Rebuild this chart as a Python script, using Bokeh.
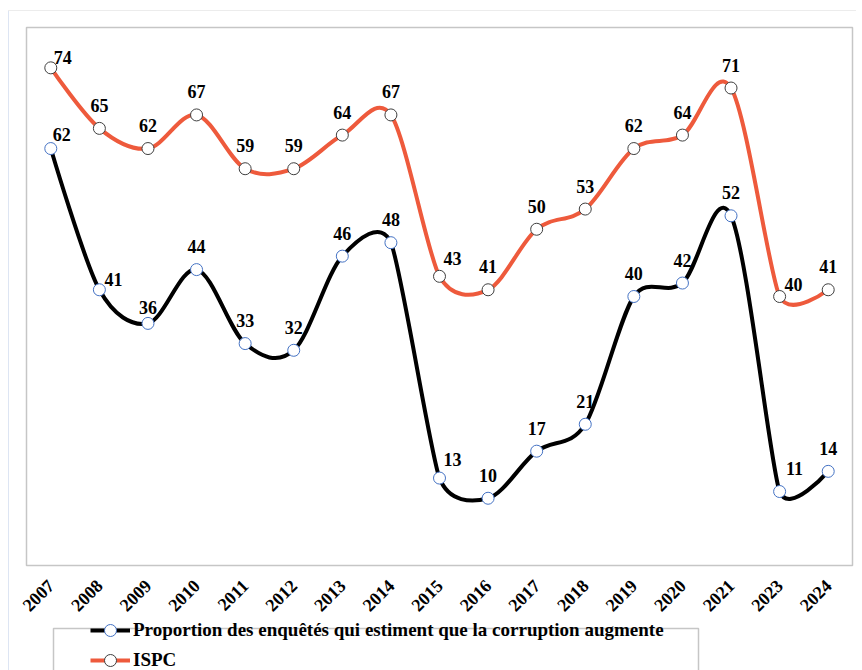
import math
from bokeh.plotting import figure
from bokeh.layouts import column
from bokeh.models import ColumnDataSource, Range1d, FixedTicker, Legend, LegendItem
from bokeh.embed import file_html
from bokeh.resources import INLINE

# ---------------- data ----------------
years = ["2007", "2008", "2009", "2010", "2011", "2012", "2013", "2014", "2015",
         "2016", "2017", "2018", "2019", "2020", "2021", "2023", "2024"]
proportion = [62, 41, 36, 44, 33, 32, 46, 48, 13, 10, 17, 21, 40, 42, 52, 11, 14]
ispc = [74, 65, 62, 67, 59, 59, 64, 67, 43, 41, 50, 53, 62, 64, 71, 40, 41]
series_names = ["Proportion des enquêtés qui estiment que la corruption augmente", "ISPC"]

# label nudges (screen px) for a few labels, default is straight above
prop_label_shift = {"2007": (11, -14), "2008": (14, -10), "2009": (0, -16),
                    "2015": (13, -19), "2023": (15, -23)}
ispc_label_shift = {"2007": (12, -10), "2015": (13, -18), "2023": (14, -12)}

# ---------------- layout ----------------
W, H1, HTOT = 856, 621, 670
ML, MR, MT = 26, 4, 27
FRAME_H = 538
MB = H1 - MT - FRAME_H
YMAX = 80
n = len(years)
xs = list(range(n))
px_x = (W - ML - MR) / n
px_y = FRAME_H / YMAX

RED = "#EE5A3C"
BLACK = "#000000"
BLUE = "#4472C4"
MK_GREY = "#3F3F3F"
FRAME_GREY = "#C6C6C6"
FONT = "Liberation Serif"

p = figure(width=W, height=H1, output_backend="svg", toolbar_location=None,
           x_range=Range1d(-0.5, n - 0.5), y_range=Range1d(0, YMAX),
           min_border_left=ML, min_border_right=MR, min_border_top=MT,
           min_border_bottom=MB, background_fill_color="white",
           border_fill_alpha=0)
p.outline_line_color = FRAME_GREY
p.outline_line_width = 1.5
p.xgrid.visible = False
p.ygrid.visible = False
p.yaxis.visible = False

ax = p.xaxis[0]
ax.ticker = FixedTicker(ticks=xs)
ax.major_label_overrides = {i: y for i, y in enumerate(years)}
ax.major_label_orientation = math.pi / 4
ax.axis_line_color = None
ax.major_tick_line_color = None
ax.minor_tick_line_color = None
ax.major_label_standoff = 11
ax.major_label_text_font = FONT
ax.major_label_text_font_style = "bold"
ax.major_label_text_font_size = "18px"
ax.major_label_text_color = "black"


def smooth_segments(vals):
    """Excel-like smoothed line as cubic Bezier segments (computed in pixel space)."""
    P = [(x * px_x, v * px_y) for x, v in zip(xs, vals)]

    def dist(a, b):
        return math.hypot(a[0] - b[0], a[1] - b[1])

    arms = []
    for i in range(len(P)):
        p0 = P[i - 1] if i > 0 else P[i]
        p1 = P[i]
        p2 = P[i + 1] if i + 1 < len(P) else P[i]
        d01, d12, d02 = dist(p0, p1), dist(p1, p2), dist(p0, p2)
        if d02 == 0:
            arms.append(((0, 0), 0))
            continue
        if d02 / 6 < d12 / 2 and d02 / 6 < d01 / 2:
            L = d02 / 6
        elif d12 < d01:
            L = d12 / 2
        else:
            L = d01 / 2
        u = ((p2[0] - p0[0]) / d02, (p2[1] - p0[1]) / d02)
        arms.append((u, L))
    seg = dict(x0=[], y0=[], x1=[], y1=[], cx0=[], cy0=[], cx1=[], cy1=[])
    for i in range(len(P) - 1):
        a, b = P[i], P[i + 1]
        (ua, La), (ub, Lb) = arms[i], arms[i + 1]
        c0 = (a[0] + ua[0] * La, a[1] + ua[1] * La)
        c1 = (b[0] - ub[0] * Lb, b[1] - ub[1] * Lb)
        seg["x0"].append(a[0] / px_x); seg["y0"].append(a[1] / px_y)
        seg["x1"].append(b[0] / px_x); seg["y1"].append(b[1] / px_y)
        seg["cx0"].append(c0[0] / px_x); seg["cy0"].append(c0[1] / px_y)
        seg["cx1"].append(c1[0] / px_x); seg["cy1"].append(c1[1] / px_y)
    return ColumnDataSource(seg)


for vals, color, mk_line, shifts in [
        (ispc, RED, MK_GREY, ispc_label_shift),
        (proportion, BLACK, BLUE, prop_label_shift)]:
    src = smooth_segments(vals)
    p.bezier(x0="x0", y0="y0", x1="x1", y1="y1", cx0="cx0", cy0="cy0",
             cx1="cx1", cy1="cy1", source=src, line_color=color, line_width=4)
    p.scatter(xs, vals, size=12, fill_color="white", line_color=mk_line, line_width=1)
    dx = [shifts.get(y, (0, -23))[0] for y in years]
    dy = [shifts.get(y, (0, -23))[1] for y in years]
    tsrc = ColumnDataSource(dict(x=xs, y=vals, t=[str(v) for v in vals], dx=dx, dy=dy))
    p.text(x="x", y="y", text="t", x_offset="dx", y_offset="dy", source=tsrc,
           text_align="center", text_baseline="middle", text_font_size="18px",
           text_font_style="bold", text_color="black",
           text_font={"value": FONT})

# ---------------- legend strip below the chart ----------------
LH = HTOT - H1
q = figure(width=W, height=LH, output_backend="svg", toolbar_location=None,
           x_range=Range1d(ML, W - MR), y_range=Range1d(HTOT, H1),
           min_border_left=ML, min_border_right=MR, min_border_top=0,
           min_border_bottom=0, background_fill_color="white",
           border_fill_alpha=0)
q.outline_line_color = None
q.xaxis.visible = False
q.yaxis.visible = False
q.xgrid.visible = False
q.ygrid.visible = False

# legend box (page-pixel coordinates of this strip)
q.quad(left=[53], right=[698], top=[628], bottom=[HTOT + 20], fill_color=None,
       line_color=FRAME_GREY, line_width=1.5)

items = []
for name, color, mk_line in [(series_names[0], BLACK, BLUE), (series_names[1], RED, MK_GREY)]:
    lr = q.line([float("nan")], [float("nan")], line_color=color, line_width=4)
    sr = q.scatter([float("nan")], [float("nan")], size=12, fill_color="white",
                   line_color=mk_line, line_width=1)
    items.append(LegendItem(label=name, renderers=[lr, sr]))

GH = 30          # glyph box height -> legend marker about 12 px
SP = -11
leg_top = 622
leg_h = 2 + GH + SP + GH + 2
legend = Legend(items=items, location=(90 - ML, HTOT - (leg_top + leg_h)),
                orientation="vertical",
                label_text_font=FONT, label_text_font_style="bold",
                label_text_font_size="19px", label_text_color="black",
                glyph_width=40, glyph_height=GH, label_height=GH, label_standoff=3,
                spacing=SP, padding=2, border_line_color=None,
                background_fill_alpha=0)
q.add_layout(legend, "center")

layout = column(p, q, spacing=0)
layout.styles = {
    "background": ("linear-gradient(#ececec, #ececec) 8px 10px / 100% 1px no-repeat, "
                   "linear-gradient(#dde5f3, #dde5f3) 8px 10px / 1px 100% no-repeat, white"),
}
open("out.html", "w").write(file_html(layout, INLINE))
